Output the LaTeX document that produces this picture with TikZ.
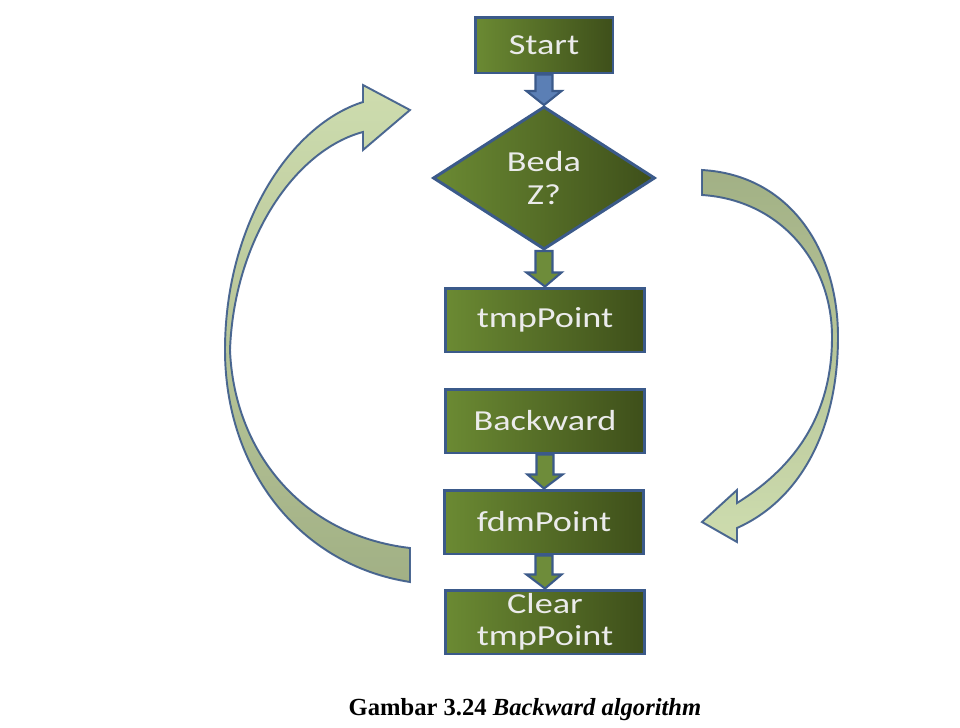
\documentclass[tikz,border=0pt]{standalone}
\usepackage{fontspec}
\newfontfamily\boxfont[FakeStretch=1.25]{Carlito}
\newfontfamily\captionfont{Liberation Serif}
\usetikzlibrary{shapes.geometric,calc}

\definecolor{edgeblue}{HTML}{3B5A8A}
\definecolor{olivelight}{HTML}{6B8A33}
\definecolor{olivedark}{HTML}{3E4F1A}
\definecolor{stubgreen}{HTML}{6E8C3A}
\definecolor{stubblue}{HTML}{5B7FB5}
\definecolor{loopdark}{HTML}{98A878}
\definecolor{looplight}{HTML}{C9D9A6}

\tikzset{
  procbox/.style={draw=edgeblue,line width=1.7pt,left color=olivelight,right color=olivedark,
    text=white!92!black,font=\boxfont\fontsize{16.5}{18.5}\selectfont,align=center,
    minimum width=3.98cm,minimum height=1.28cm,inner sep=0pt},
  stubline/.style={draw=edgeblue,line width=1.2pt,line join=miter},
  loopline/.style={draw=edgeblue,line width=1.1pt,line join=miter,opacity=.9}
}

% block arrow between two nodes
\newcommand{\blockarr}[3]{%
  \draw[stubline,fill=#3] let \p1=(#1.south), \p2=(#2.north) in
    (\x1-0.17cm,\y1) -- (\x1-0.17cm,\y2+0.28cm) -- (\x1-0.35cm,\y2+0.28cm) -- (\x2,\y2)
    -- (\x1+0.35cm,\y2+0.28cm) -- (\x1+0.17cm,\y2+0.28cm) -- (\x1+0.17cm,\y1) -- cycle;}

\begin{document}
\begin{tikzpicture}[x=0.02cm,y=-0.02cm]
  \useasboundingbox (0,0) rectangle (960,727);
  \fill[white] (0,0) rectangle (960,727);

  % loop arrow on the left
  \draw[loopline,top color=looplight,bottom color=loopdark]
    (410,582) .. controls (300,565) and (225,470) .. (225,350)
    .. controls (225,225) and (290,125) .. (363,102)
    -- (363,85) -- (410,110) -- (363,150) -- (363,132)
    .. controls (295,150) and (234,240) .. (230,350)
    .. controls (234,450) and (300,535) .. (410,548) -- cycle;
  % loop arrow on the right
  \draw[loopline,top color=loopdark,bottom color=looplight]
    (702,170) .. controls (790,175) and (838,250) .. (838,337)
    .. controls (838,430) and (800,500) .. (737,528)
    -- (737,542) -- (702,522) -- (737,490) -- (737,503)
    .. controls (790,470) and (832,420) .. (832,337)
    .. controls (832,262) and (780,200) .. (702,195) -- cycle;

  \node[procbox,minimum width=2.76cm,minimum height=1.12cm] (start) at (544,45) {Start};
  \node[procbox,diamond,minimum width=4.44cm,minimum height=2.86cm] (beda) at (544,178) {Beda\\Z?};
  \node[procbox] (tmp) at (545,320) {tmpPoint};
  \node[procbox] (backward) at (545,421) {Backward};
  \node[procbox] (fdm) at (544,522) {fdmPoint};
  \node[procbox] (clear) at (545,622) {Clear\\tmpPoint};

  \blockarr{start}{beda}{stubblue}
  \blockarr{beda}{tmp}{stubgreen}
  \blockarr{backward}{fdm}{stubgreen}
  \blockarr{fdm}{clear}{stubgreen}

  \node[font=\captionfont\bfseries\fontsize{14}{16}\selectfont] (caption) at (525,710)
    {Gambar 3.24 \textit{Backward algorithm}};
\end{tikzpicture}
\end{document}
